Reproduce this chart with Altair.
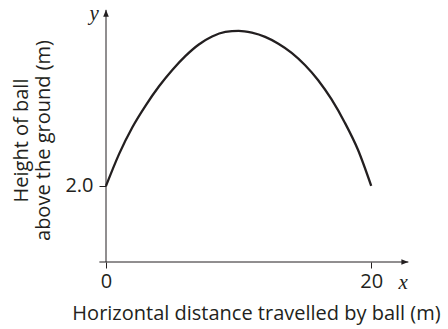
import altair as alt
import pandas as pd

# Flight path of the ball: horizontal distance (m) and height above ground (m)
distance_m = [0, 1, 2, 3, 4, 5, 6, 7, 8, 9, 10, 11, 12, 13, 14, 15, 16, 17, 18, 19, 20]
height_m = [2.0, 2.85, 3.55, 4.12, 4.62, 5.05, 5.42, 5.72, 5.93, 6.05, 6.08,
            6.03, 5.92, 5.74, 5.50, 5.18, 4.78, 4.28, 3.67, 2.95, 2.0]

x_tick_values = [0, 20]
y_tick_values = [2.0]

x_title = "Horizontal distance travelled by ball (m)"
y_title = ["Height of ball", "above the ground (m)"]

# Axis lines (data units) and where the arrow tips sit
x_axis_start, x_axis_tip = -0.5, 22.8
y_axis_tip = 6.63
x_letter_pos = (22.4, -0.55)
y_letter_pos = (-0.9, 6.52)

X_DOMAIN = [0, 23]
Y_DOMAIN = [0, 6.6]

INK = "#231f20"
FONT = "Open Sans"
LETTER_FONT = "Liberation Serif"

x_scale = alt.Scale(domain=X_DOMAIN, nice=False, zero=False)
y_scale = alt.Scale(domain=Y_DOMAIN, nice=False, zero=False)

x_axis = alt.Axis(
    values=x_tick_values, domain=False, grid=False,
    tickSize=6, tickColor=INK, tickWidth=1,
    labelFont=FONT, labelFontSize=20, labelColor=INK, labelPadding=3,
    labelFlush=False, labelOverlap=False,
    title=x_title, titleFont=FONT, titleFontSize=20, titleFontWeight="normal",
    titleColor=INK, titleX=150, titleY=57, titleAlign="center",
    titleBaseline="alphabetic",
)
y_axis = alt.Axis(
    values=y_tick_values, format=".1f", domain=False, grid=False,
    tickSize=7, tickColor=INK, tickWidth=1,
    labelFont=FONT, labelFontSize=20, labelColor=INK, labelPadding=6,
    labelOverlap=False,
    title=y_title, titleFont=FONT, titleFontSize=20, titleFontWeight="normal",
    titleColor=INK, titleX=-85, titleY=129, titleAlign="center",
    titleBaseline="middle", titleAngle=270, titleLineHeight=22.5,
)


def x_enc(field="x"):
    return alt.X(f"{field}:Q", scale=x_scale, axis=x_axis)


def y_enc(field="y"):
    return alt.Y(f"{field}:Q", scale=y_scale, axis=y_axis)


curve_df = pd.DataFrame({"x": distance_m, "y": height_m})

curve = alt.Chart(curve_df).mark_line(
    color=INK, strokeWidth=2.3, interpolate="monotone"
).encode(x=x_enc(), y=y_enc())

# Horizontal axis line
x_line_df = pd.DataFrame({"x": [x_axis_start], "x2": [x_axis_tip], "y": [0]})
x_line = alt.Chart(x_line_df).mark_rule(color=INK, strokeWidth=1).encode(
    x=x_enc(), x2=alt.X2("x2:Q"), y=y_enc()
)

# Vertical axis line
y_line_df = pd.DataFrame({"x": [0], "y": [0], "y2": [y_axis_tip]})
y_line = alt.Chart(y_line_df).mark_rule(color=INK, strokeWidth=1).encode(
    x=x_enc(), y=y_enc(), y2=alt.Y2("y2:Q")
)

# Arrowheads: path tip sits at the anchor point
up_head = alt.Chart(pd.DataFrame({"x": [0], "y": [y_axis_tip]})).mark_point(
    shape="M0,0 L0.8,2 L-0.8,2 Z", filled=True, size=49, color=INK, opacity=1,
    strokeWidth=0,
).encode(x=x_enc(), y=y_enc())

right_head = alt.Chart(pd.DataFrame({"x": [x_axis_tip], "y": [0]})).mark_point(
    shape="M0,0 L-2,-0.8 L-2,0.8 Z", filled=True, size=49, color=INK, opacity=1,
    strokeWidth=0,
).encode(x=x_enc(), y=y_enc())

# Italic axis letters
letters_df = pd.DataFrame({
    "x": [x_letter_pos[0], y_letter_pos[0]],
    "y": [x_letter_pos[1], y_letter_pos[1]],
    "t": ["x", "y"],
})
letters = alt.Chart(letters_df).mark_text(
    font=LETTER_FONT, fontStyle="italic", fontSize=21, color=INK,
    align="center", baseline="middle",
).encode(x=x_enc(), y=y_enc(), text="t:N")

chart = alt.layer(curve, x_line, y_line, up_head, right_head, letters).properties(
    width=305, height=251, autosize="none",
    padding={"left": 106, "top": 11, "right": 37, "bottom": 67},
    background="white",
).configure_view(stroke=None)

chart.save("out.html", embed_options={"renderer": "svg", "actions": False})
